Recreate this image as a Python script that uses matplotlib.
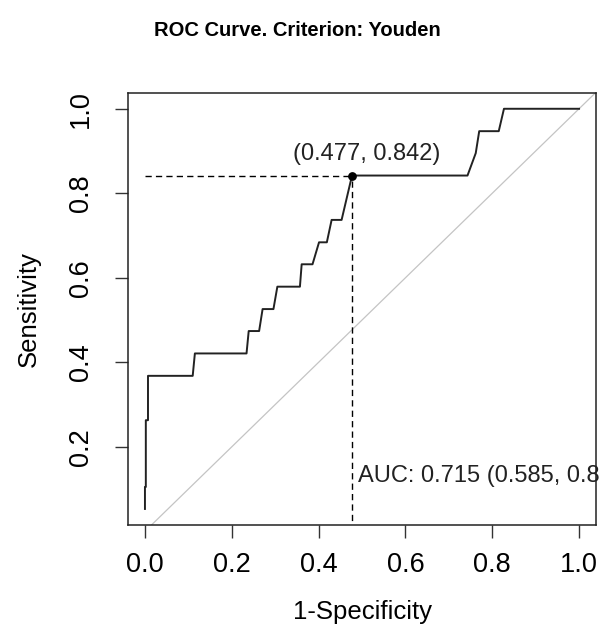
import matplotlib
matplotlib.use("Agg")
import matplotlib.pyplot as plt

# ROC curve vertices (1-specificity, sensitivity)
fpr = [0.0, 0.0, 0.002, 0.002, 0.007, 0.007, 0.110, 0.115, 0.234, 0.239,
       0.263, 0.271, 0.296, 0.305, 0.357, 0.361, 0.386, 0.401, 0.419, 0.430,
       0.453, 0.477, 0.743, 0.762, 0.770, 0.815, 0.827, 1.0]
tpr = [0.053, 0.105, 0.105, 0.263, 0.263, 0.368, 0.368, 0.421, 0.421, 0.474,
       0.474, 0.526, 0.526, 0.579, 0.579, 0.632, 0.632, 0.684, 0.684, 0.737,
       0.737, 0.842, 0.842, 0.895, 0.947, 0.947, 1.0, 1.0]

best_fpr = 0.477
best_tpr = 0.842
auc_text = "AUC: 0.715 (0.585, 0.844)"
title = "ROC Curve. Criterion: Youden"

x_ticks = [0.0, 0.2, 0.4, 0.6, 0.8, 1.0]
y_ticks = [0.2, 0.4, 0.6, 0.8, 1.0]

plt.rcParams['font.family'] = ['Liberation Sans', 'DejaVu Sans']

fig = plt.figure(figsize=(5.99, 6.32), dpi=100)
ax = fig.add_axes([0.213, 0.1693, 0.7827, 0.684])

# chance line
ax.plot([-0.1, 1.1], [-0.1, 1.1], color='#c4c4c4', linewidth=0.9, zorder=1)

# threshold guides
ax.plot([0, best_fpr], [best_tpr, best_tpr], color='black', linewidth=1.0,
        linestyle=(0, (4.5, 3)), zorder=2)
ax.plot([best_fpr, best_fpr], [0, best_tpr], color='black', linewidth=1.0,
        linestyle=(0, (4.5, 3)), zorder=2)

# the curve
ax.plot(fpr, tpr, color='#222222', linewidth=1.4, zorder=3)
ax.scatter([best_fpr], [best_tpr], s=28, color='black', zorder=4)

ax.text(best_fpr - 0.136, best_tpr + 0.05, "(%.3f, %.3f)" % (best_fpr, best_tpr),
        fontsize=17, ha='left', va='center', color='#222222')
ax.text(0.491, 0.13, auc_text, fontsize=17, ha='left', va='center',
        color='#222222', clip_on=False)

ax.set_xlim(-0.04, 1.04)
ax.set_ylim(0.015, 1.038)
ax.set_xticks(x_ticks)
ax.set_xticklabels(["%.1f" % v for v in x_ticks])
ax.set_yticks(y_ticks)
ax.set_yticklabels(["%.1f" % v for v in y_ticks])
ax.tick_params(axis='both', labelsize=19.5, length=9.5, width=1, color='#333333')
ax.tick_params(axis='x', pad=10)
ax.tick_params(axis='y', pad=15)
for lab in ax.get_yticklabels():
    lab.set_rotation(90)
    lab.set_va('center')

for sp in ax.spines.values():
    sp.set_linewidth(1.1)
    sp.set_color('#222222')

ax.set_xlabel("1-Specificity", fontsize=18.5, labelpad=15.5)
ax.set_ylabel("Sensitivity", fontsize=18.5, labelpad=19.5)

fig.text(0.497, 1 - 31 / 632, title, fontsize=14.5, fontweight='bold',
         ha='center', va='center')

fig.savefig("out.png", dpi=100)
